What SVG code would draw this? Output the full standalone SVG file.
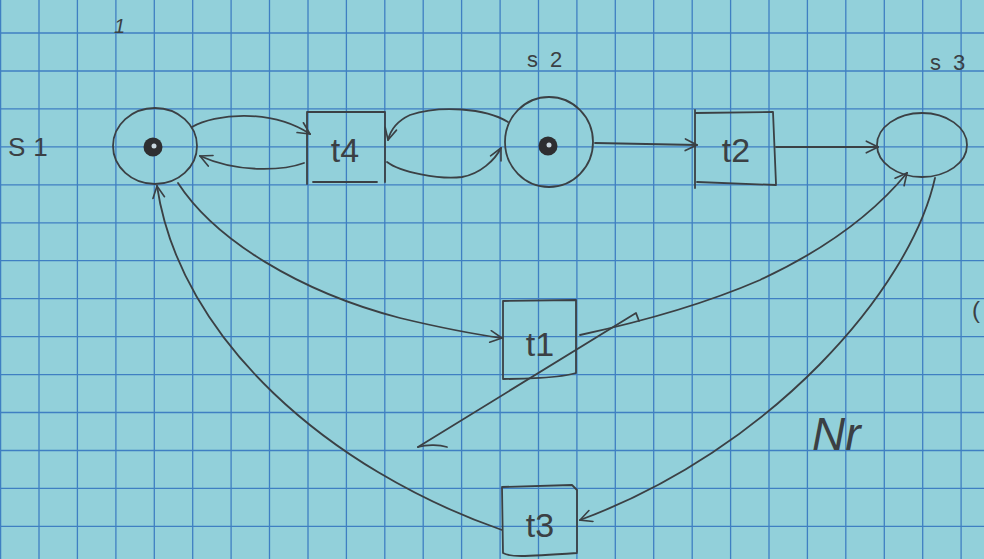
<svg xmlns="http://www.w3.org/2000/svg" width="984" height="559" viewBox="0 0 984 559">
<defs>
<style>
.ink{fill:none;stroke:#3b4044;stroke-width:1.8;stroke-linecap:round;stroke-linejoin:round}
.tok{fill:#2e2e30}
.lbl{font-family:"Liberation Sans","DejaVu Sans",sans-serif;fill:#3b4044}
.grid line{stroke:#3f7fc2;stroke-width:1.3}
</style>
<marker id="ah" viewBox="0 0 12 12" refX="11" refY="6" markerWidth="14" markerHeight="14" markerUnits="userSpaceOnUse" orient="auto">
<path d="M1,1 L11,6 L1,11" fill="none" stroke="#3b4044" stroke-width="1.4" stroke-linecap="round"/>
</marker>
</defs>
<rect width="984" height="559" fill="#92d0da"/>
<g class="grid">
<line x1="0.6" y1="0" x2="0.6" y2="559"/><line x1="39" y1="0" x2="39" y2="559"/><line x1="77.4" y1="0" x2="77.4" y2="559"/><line x1="115.9" y1="0" x2="115.9" y2="559"/><line x1="154.3" y1="0" x2="154.3" y2="559"/><line x1="192.7" y1="0" x2="192.7" y2="559"/><line x1="231.1" y1="0" x2="231.1" y2="559"/><line x1="269.5" y1="0" x2="269.5" y2="559"/><line x1="308" y1="0" x2="308" y2="559"/><line x1="346.4" y1="0" x2="346.4" y2="559"/><line x1="384.8" y1="0" x2="384.8" y2="559"/><line x1="423.2" y1="0" x2="423.2" y2="559"/><line x1="461.6" y1="0" x2="461.6" y2="559"/><line x1="500.1" y1="0" x2="500.1" y2="559"/><line x1="538.5" y1="0" x2="538.5" y2="559"/><line x1="576.9" y1="0" x2="576.9" y2="559"/><line x1="615.3" y1="0" x2="615.3" y2="559"/><line x1="653.7" y1="0" x2="653.7" y2="559"/><line x1="692.2" y1="0" x2="692.2" y2="559"/><line x1="730.6" y1="0" x2="730.6" y2="559"/><line x1="769" y1="0" x2="769" y2="559"/><line x1="807.4" y1="0" x2="807.4" y2="559"/><line x1="845.8" y1="0" x2="845.8" y2="559"/><line x1="884.3" y1="0" x2="884.3" y2="559"/><line x1="922.7" y1="0" x2="922.7" y2="559"/><line x1="961.1" y1="0" x2="961.1" y2="559"/>
<line x1="0" y1="33" x2="984" y2="33"/><line x1="0" y1="71" x2="984" y2="71"/><line x1="0" y1="108.9" x2="984" y2="108.9"/><line x1="0" y1="146.9" x2="984" y2="146.9"/><line x1="0" y1="184.8" x2="984" y2="184.8"/><line x1="0" y1="222.8" x2="984" y2="222.8"/><line x1="0" y1="260.7" x2="984" y2="260.7"/><line x1="0" y1="298.7" x2="984" y2="298.7"/><line x1="0" y1="336.6" x2="984" y2="336.6"/><line x1="0" y1="374.6" x2="984" y2="374.6"/><line x1="0" y1="412.5" x2="984" y2="412.5"/><line x1="0" y1="450.5" x2="984" y2="450.5"/><line x1="0" y1="488.4" x2="984" y2="488.4"/><line x1="0" y1="526.4" x2="984" y2="526.4"/>
</g>

<g id="connectors">
<path class="ink" d="M192,127 C215,114 270,108 310,134" marker-end="url(#ah)"/>
<path class="ink" d="M304,163 C285,170 240,174 200,156" marker-end="url(#ah)"/>
<path class="ink" d="M508,122 C485,108 440,105 410,115 C395,122 390,132 388,140" marker-end="url(#ah)"/>
<path class="ink" d="M387,162 C400,172 440,180 462,177 C480,174 495,160 501,148" marker-end="url(#ah)"/>
<path class="ink" d="M595,143 L697,145" marker-end="url(#ah)"/>
<path class="ink" d="M776,147 L878,147" marker-end="url(#ah)"/>
<path class="ink" d="M178,183 C215,240 300,292 400,318 C450,330 480,335 502,338" marker-end="url(#ah)"/>
<path class="ink" d="M580,335 C640,322 700,306 760,280 C820,252 870,218 907,173" marker-end="url(#ah)"/>
<path class="ink" d="M935,178 C910,290 770,450 580,520" marker-end="url(#ah)"/>
<path class="ink" d="M502,530 C330,470 180,340 157,186" marker-end="url(#ah)"/>
<path class="ink" d="M418,447 L636,313 L639,321"/>
<path class="ink" d="M418,447 C428,444 440,445 447,447"/>
</g>

<g id="s1">
<ellipse class="ink" cx="155" cy="146" rx="42" ry="38"/>
<circle class="tok" cx="153" cy="147" r="9.5"/>
<circle cx="154" cy="146" r="2.5" fill="#c9d6de"/>
</g>
<g id="t4">
<path class="ink" d="M307,112 L385,112 M307,112 L307,184 M385,112 L385,182 M313,182 L377,182"/>
<text class="lbl" x="345" y="162" font-size="34" text-anchor="middle">t4</text>
</g>
<g id="s2">
<ellipse class="ink" cx="549" cy="142" rx="44" ry="45"/>
<circle class="tok" cx="548" cy="146" r="9.5"/>
<circle cx="549" cy="145" r="2.5" fill="#c9d6de"/>
</g>
<g id="t2">
<path class="ink" d="M695,110 L695,188 M695,113 L773,112 L776,184 M697,182 L776,185"/>
<text class="lbl" x="736" y="162" font-size="34" text-anchor="middle">t2</text>
</g>
<g id="s3">
<ellipse class="ink" cx="922" cy="145" rx="45" ry="32"/>
</g>
<g id="t1">
<path class="ink" d="M503,301 L576,300 L576,373 M503,301 L503,379 C520,379 560,378 576,373"/>
<text class="lbl" x="540" y="356" font-size="34" text-anchor="middle">t1</text>
</g>
<g id="t3">
<path class="ink" d="M502,487 L572,485 L577,490 L577,552 M502,487 L503,553 C510,557 520,557 577,553"/>
<text class="lbl" x="540" y="537" font-size="34" text-anchor="middle">t3</text>
</g>

<g id="labels">
<text class="lbl" x="8" y="156" font-size="26">S<tspan dx="8">1</tspan></text>
<text class="lbl" x="527" y="67" font-size="22">s<tspan dx="12">2</tspan></text>
<text class="lbl" x="930" y="70" font-size="22">s<tspan dx="12">3</tspan></text>
<text class="lbl" x="114" y="33" font-size="20" font-style="italic">1</text>
<text class="lbl" x="812" y="450" font-size="46" font-style="italic">Nr</text>
<text class="lbl" x="972" y="318" font-size="24">(</text>
</g>
</svg>
